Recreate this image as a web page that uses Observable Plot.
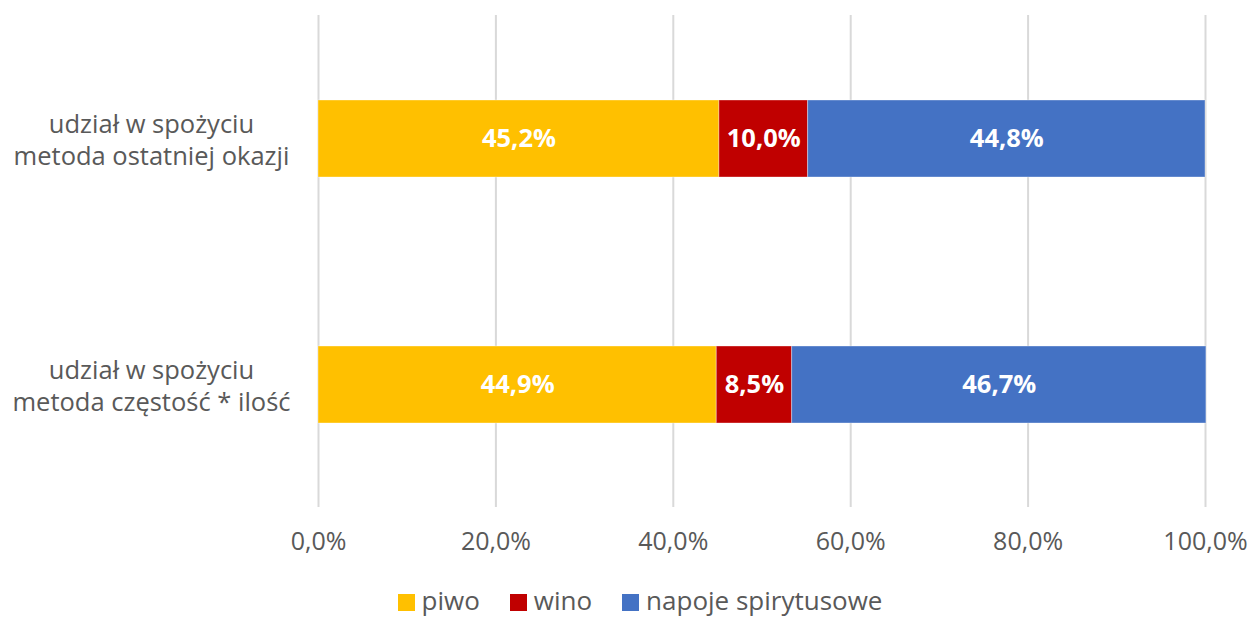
<!DOCTYPE html>
<html>
<head>
<meta charset="utf-8">
<script src="https://cdn.jsdelivr.net/npm/d3@7"></script>
<script src="https://cdn.jsdelivr.net/npm/@observablehq/plot@0.6"></script>
<style>
  body { margin: 0; background: #fff; font-family: "Open Sans", sans-serif; }
  #legend { display: flex; justify-content: center; align-items: center; gap: 30px; height: 39px; margin-left: 28px; font-size: 26px; color: #595959; }
  #legend span.sw { display: inline-block; width: 17px; height: 17px; margin-right: 7px; vertical-align: -1px; }
</style>
</head>
<body>
<div id="chart"></div>
<script>
const categories = ["udział w spożyciu\nmetoda ostatniej okazji", "udział w spożyciu\nmetoda częstość * ilość"];
const series = ["piwo", "wino", "napoje spirytusowe"];
const colors = ["#FFC000", "#C00000", "#4472C4"];
const piwo = [45.2, 44.9];
const wino = [10.0, 8.5];
const napoje = [44.8, 46.7];
const xTicks = [0, 20, 40, 60, 80, 100];

const valuesBySeries = [piwo, wino, napoje];
const data = [];
series.forEach((s, si) => {
  categories.forEach((c, ci) => {
    data.push({ category: c, series: s, value: valuesBySeries[si][ci] });
  });
});
const fmt = v => v.toFixed(1).replace(".", ",") + "%";

const chart = Plot.plot({
  width: 1252,
  height: 580,
  marginLeft: 318,
  marginRight: 47,
  marginTop: 15,
  marginBottom: 73,
  style: { fontFamily: "Open Sans, sans-serif", background: "#fff" },
  x: { domain: [0, 100], axis: null },
  y: { domain: categories, axis: null, paddingInner: 0.687, paddingOuter: 0.3435 },
  color: { domain: series, range: colors },
  marks: [
    Plot.ruleX(xTicks, { x: d => d, stroke: "#d9d9d9", strokeWidth: 2, y1: null, y2: null }),
    Plot.barX(data, Plot.stackX({ x: "value", y: "category", fill: "series", order: null, stroke: "#ffffff", strokeOpacity: 0.35, strokeWidth: 1 })),
    Plot.text(data, Plot.stackX({ x: "value", y: "category", z: "series", order: null, text: d => fmt(d.value), fill: "white", fontWeight: "bold", fontSize: 25.5 })),
    Plot.text(categories, { y: d => d, text: d => d, frameAnchor: "left", dx: -167, textAnchor: "middle", fontSize: 25.5, lineHeight: 1.25, fill: "#595959" }),
    Plot.text(xTicks, { x: d => d, text: d => fmt(d), frameAnchor: "bottom", dy: 42, fontSize: 25, fill: "#595959" })
  ]
});
document.getElementById("chart").appendChild(chart);

const legend = document.createElement("div");
legend.id = "legend";
series.forEach((s, i) => {
  const item = document.createElement("div");
  item.innerHTML = `<span class="sw" style="background:${colors[i]}"></span>${s}`;
  legend.appendChild(item);
});
document.body.appendChild(legend);
</script>
</body>
</html>
